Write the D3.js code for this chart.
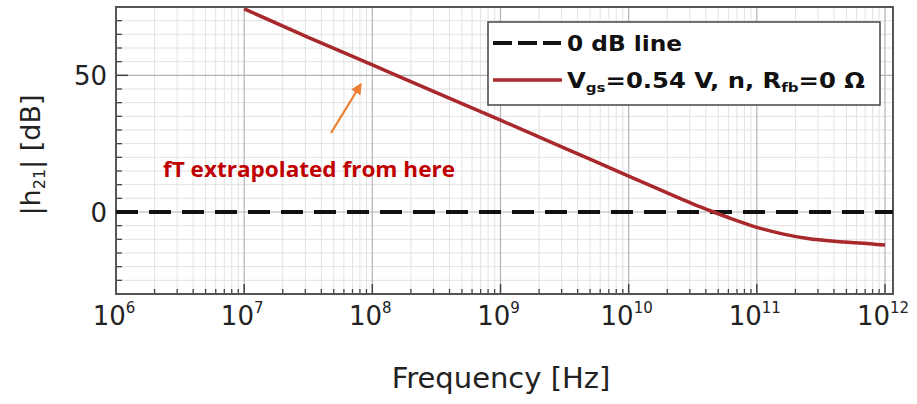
<!DOCTYPE html>
<html>
<head>
<meta charset="utf-8">
<script src="https://cdn.jsdelivr.net/npm/d3@7"></script>
<style>
  html, body { margin: 0; padding: 0; background: #fff; }
  svg { display: block; }
</style>
</head>
<body>
<svg id="chart" width="917" height="404"></svg>
<script>
// ---- data ----
const freqHz = [1e7, 3.16e7, 1e8, 3.16e8, 1e9, 3.16e9, 1e10, 2e10, 3.16e10, 4.6e10, 6.3e10, 1e11, 1.58e11, 2.5e11, 4e11, 6.3e11, 1e12];
const h21dB  = [74.3, 63.9, 53.8, 43.7, 33.6, 23.4, 13.1, 7.0, 3.0, 0, -2.4, -5.6, -8.0, -9.7, -10.7, -11.3, -12.1];
const zeroLineDB = [0, 0];
const xDecades = [6, 7, 8, 9, 10, 11, 12];
const yMajorTicks = [0, 50];
const yMinorTicks = [-30, -25, -20, -15, -10, -5, 5, 10, 15, 20, 25, 30, 35, 40, 45, 55, 60, 65, 70, 75];
const legendLabels = ["0 dB line", "Vgs=0.54 V, n, Rfb=0 Ω"];
const annotationText = "fT extrapolated from here";
const xLabel = "Frequency [Hz]";

// ---- layout ----
const svg = d3.select("#chart");
const L = 116, R = 885, FR = 893, T = 7, B = 294;
const x = d3.scaleLog().domain([1e6, 1e12]).range([L, R]);
const y = d3.scaleLinear().domain([-30, 75]).range([B, T]);
const xMax = x.invert(FR);

const minorX = [];
xDecades.slice(0, -1).forEach(d => { for (let k = 2; k <= 9; k++) minorX.push(k * Math.pow(10, d)); });
const majorX = xDecades.map(d => Math.pow(10, d));

const g = svg.append("g");

// grid
g.selectAll(".gxm").data(minorX).join("line")
  .attr("x1", d => x(d)).attr("x2", d => x(d)).attr("y1", T).attr("y2", B)
  .attr("stroke", "#e2e2e2").attr("stroke-width", 1);
g.selectAll(".gym").data(yMinorTicks).join("line")
  .attr("x1", L).attr("x2", FR).attr("y1", d => y(d)).attr("y2", d => y(d))
  .attr("stroke", "#e2e2e2").attr("stroke-width", 1);
g.selectAll(".gxM").data(majorX).join("line")
  .attr("x1", d => x(d)).attr("x2", d => x(d)).attr("y1", T).attr("y2", B)
  .attr("stroke", "#b4b4b4").attr("stroke-width", 1.2);
g.selectAll(".gyM").data(yMajorTicks).join("line")
  .attr("x1", L).attr("x2", FR).attr("y1", d => y(d)).attr("y2", d => y(d))
  .attr("stroke", "#b4b4b4").attr("stroke-width", 1.2);

// ticks (inward)
g.selectAll(".txm").data(minorX).join("line")
  .attr("x1", d => x(d)).attr("x2", d => x(d)).attr("y1", B).attr("y2", B - 5)
  .attr("stroke", "#444").attr("stroke-width", 1.3);
g.selectAll(".txM").data(majorX).join("line")
  .attr("x1", d => x(d)).attr("x2", d => x(d)).attr("y1", B).attr("y2", B - 10)
  .attr("stroke", "#444").attr("stroke-width", 1.5);
g.selectAll(".tym").data(yMinorTicks).join("line")
  .attr("x1", L).attr("x2", L + 6).attr("y1", d => y(d)).attr("y2", d => y(d))
  .attr("stroke", "#444").attr("stroke-width", 1.3);
g.selectAll(".tyM").data(yMajorTicks).join("line")
  .attr("x1", L).attr("x2", L + 12).attr("y1", d => y(d)).attr("y2", d => y(d))
  .attr("stroke", "#444").attr("stroke-width", 1.5);

// frame
g.append("rect").attr("x", L).attr("y", T).attr("width", FR - L).attr("height", B - T)
  .attr("fill", "none").attr("stroke", "#555").attr("stroke-width", 2);

// tick labels
const xl = g.selectAll(".xlab").data(xDecades).join("text")
  .attr("x", d => x(Math.pow(10, d)) - 2).attr("y", 325)
  .attr("text-anchor", "middle")
  .attr("font-family", "DejaVu Sans").attr("font-size", 26).attr("fill", "#222");
xl.append("tspan").text("10");
xl.append("tspan").attr("dy", -12).attr("font-size", 15).text(d => d);

g.selectAll(".ylab").data(yMajorTicks).join("text")
  .attr("x", 107).attr("y", d => y(d) + 9.5)
  .attr("text-anchor", "end")
  .attr("font-family", "DejaVu Sans").attr("font-size", 26).attr("fill", "#222")
  .text(d => d);

// axis titles
g.append("text").attr("x", 501).attr("y", 388).attr("text-anchor", "middle")
  .attr("font-family", "DejaVu Sans").attr("font-size", 29).attr("fill", "#222")
  .text(xLabel);
const yt = g.append("text").attr("transform", "translate(40,155) rotate(-90)")
  .attr("text-anchor", "middle")
  .attr("font-family", "DejaVu Sans").attr("font-size", 27).attr("fill", "#222");
yt.append("tspan").text("|h");
yt.append("tspan").attr("font-size", 16).attr("dy", 5).text("21");
yt.append("tspan").attr("dy", -5).text("| [dB]");

// series
const lineGen = d3.line().x(d => x(d[0])).y(d => y(d[1]));
const curveGen = d3.line().x(d => x(d[0])).y(d => y(d[1])).curve(d3.curveMonotoneX);
g.append("path").datum([[1e6, zeroLineDB[0]], [xMax, zeroLineDB[1]]])
  .attr("d", lineGen).attr("fill", "none")
  .attr("stroke", "#111").attr("stroke-width", 4).attr("stroke-dasharray", "22,11");
g.append("path").datum(freqHz.map((f, i) => [f, h21dB[i]]))
  .attr("d", curveGen).attr("fill", "none")
  .attr("stroke", "#a8282b").attr("stroke-width", 3.5).attr("stroke-linejoin", "round");

// annotation
g.append("text").attr("x", 163).attr("y", 177)
  .attr("font-family", "Open Sans").attr("font-weight", "bold").attr("font-size", 21)
  .attr("fill", "#c00000").attr("textLength", 292).attr("lengthAdjust", "spacingAndGlyphs")
  .text(annotationText);
svg.append("defs").append("marker").attr("id", "ah").attr("viewBox", "0 0 10 10")
  .attr("refX", 9).attr("refY", 5).attr("markerWidth", 5).attr("markerHeight", 5)
  .attr("orient", "auto").attr("markerUnits", "strokeWidth")
  .append("path").attr("d", "M0,0 L10,5 L0,10 z").attr("fill", "#ed7d31");
g.append("line").attr("x1", 331).attr("y1", 133).attr("x2", 361).attr("y2", 84)
  .attr("stroke", "#ed7d31").attr("stroke-width", 2.2).attr("marker-end", "url(#ah)");

// legend
const lg = g.append("g");
lg.append("rect").attr("x", 488).attr("y", 22).attr("width", 392).attr("height", 83)
  .attr("fill", "#fff").attr("stroke", "#444").attr("stroke-width", 1.5);
lg.append("line").attr("x1", 493).attr("x2", 561).attr("y1", 43).attr("y2", 43)
  .attr("stroke", "#111").attr("stroke-width", 4).attr("stroke-dasharray", "19,6");
lg.append("line").attr("x1", 493).attr("x2", 562).attr("y1", 80).attr("y2", 80)
  .attr("stroke", "#a8282b").attr("stroke-width", 3.5);
lg.append("text").attr("x", 567).attr("y", 51)
  .attr("font-family", "DejaVu Sans").attr("font-weight", "bold").attr("font-size", 21).attr("fill", "#111")
  .attr("textLength", 115).attr("lengthAdjust", "spacingAndGlyphs")
  .text(legendLabels[0]);
const l2 = lg.append("text").attr("x", 567).attr("y", 88)
  .attr("font-family", "DejaVu Sans").attr("font-weight", "bold").attr("font-size", 21).attr("fill", "#111")
  .attr("textLength", 298).attr("lengthAdjust", "spacingAndGlyphs");
l2.append("tspan").text("V");
l2.append("tspan").attr("font-size", 13).attr("dy", 4).text("gs");
l2.append("tspan").attr("dy", -4).text("=0.54 V, n, R");
l2.append("tspan").attr("font-size", 13).attr("dy", 4).text("fb");
l2.append("tspan").attr("dy", -4).text("=0 Ω");
</script>
</body>
</html>
